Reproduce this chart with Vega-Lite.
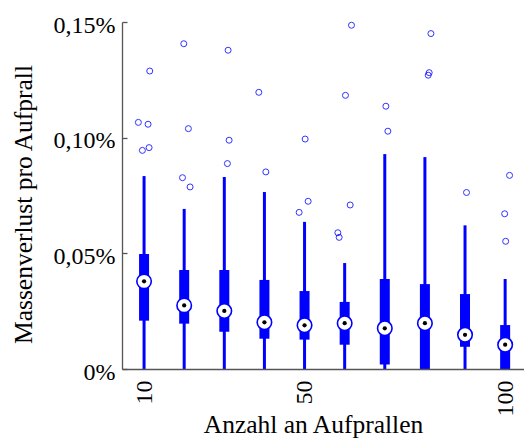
{
  "$schema": "https://vega.github.io/schema/vega-lite/v6.json",
  "autosize": "none",
  "width": 402,
  "height": 347,
  "padding": {"left": 122, "top": 22, "right": 0, "bottom": 69},
  "background": "white",
  "config": {
    "view": {"stroke": null},
    "font": "Liberation Serif",
    "axis": {
      "labelFont": "Liberation Serif",
      "titleFont": "Liberation Serif",
      "labelFontSize": 24,
      "titleFontSize": 25.5,
      "titleFontWeight": "normal",
      "labelColor": "#000000",
      "titleColor": "#000000",
      "domainColor": "#555555",
      "domainWidth": 1.3,
      "tickColor": "#555555",
      "tickWidth": 1.3,
      "grid": false
    }
  },
  "datasets": {
    "boxes": [
      {"n": 10, "lower": 0, "q1": 0.0209, "median": 0.0379, "q3": 0.0497, "upper": 0.0834},
      {"n": 20, "lower": 0, "q1": 0.0196, "median": 0.0275, "q3": 0.0428, "upper": 0.0692},
      {"n": 30, "lower": 0, "q1": 0.0161, "median": 0.0251, "q3": 0.0428, "upper": 0.0830},
      {"n": 40, "lower": 0, "q1": 0.0131, "median": 0.0202, "q3": 0.0385, "upper": 0.0765},
      {"n": 50, "lower": 0, "q1": 0.0127, "median": 0.0189, "q3": 0.0337, "upper": 0.0636},
      {"n": 60, "lower": 0, "q1": 0.0105, "median": 0.0198, "q3": 0.0290, "upper": 0.0458},
      {"n": 70, "lower": 0, "q1": 0.0019, "median": 0.0176, "q3": 0.0389, "upper": 0.0929},
      {"n": 80, "lower": 0, "q1": 0.0, "median": 0.0198, "q3": 0.0367, "upper": 0.0916},
      {"n": 90, "lower": 0, "q1": 0.0096, "median": 0.0148, "q3": 0.0324, "upper": 0.0621},
      {"n": 100, "lower": 0, "q1": 0.0, "median": 0.0105, "q3": 0.0190, "upper": 0.0389}
    ],
    "outliers": [
      {"x": 8.58, "value": 0.1066},
      {"x": 11.0, "value": 0.1058},
      {"x": 9.58, "value": 0.0945},
      {"x": 11.25, "value": 0.0957},
      {"x": 11.42, "value": 0.1288},
      {"x": 19.9, "value": 0.1406},
      {"x": 21.05, "value": 0.1039},
      {"x": 19.58, "value": 0.0827},
      {"x": 21.47, "value": 0.0787},
      {"x": 30.95, "value": 0.1378},
      {"x": 31.2, "value": 0.0989},
      {"x": 30.77, "value": 0.0888},
      {"x": 38.6, "value": 0.1196},
      {"x": 40.35, "value": 0.0852},
      {"x": 50.15, "value": 0.0994},
      {"x": 48.65, "value": 0.0677},
      {"x": 50.9, "value": 0.0725},
      {"x": 61.7, "value": 0.1486},
      {"x": 60.2, "value": 0.1183},
      {"x": 58.3, "value": 0.0589},
      {"x": 58.63, "value": 0.0569},
      {"x": 61.37, "value": 0.0709},
      {"x": 70.27, "value": 0.1136},
      {"x": 70.77, "value": 0.1028},
      {"x": 81.5, "value": 0.1450},
      {"x": 81.07, "value": 0.1281},
      {"x": 80.82, "value": 0.1270},
      {"x": 90.37, "value": 0.0763},
      {"x": 101.1, "value": 0.0837},
      {"x": 99.88, "value": 0.0671},
      {"x": 100.13, "value": 0.0552}
    ]
  },
  "layer": [
    {
      "data": {"name": "boxes"},
      "mark": {"type": "rule", "color": "#0000ff", "strokeWidth": 3, "clip": false},
      "encoding": {
        "x": {
          "field": "n", "type": "quantitative",
          "scale": {"domain": [4.5, 104.7], "nice": false, "zero": false},
          "axis": {
            "title": "Anzahl an Aufprallen",
            "values": [10, 50, 100],
            "labelAngle": 270,
            "ticks": false,
            "labelPadding": 11,
            "titleX": 191,
            "titleY": 63,
            "titleBaseline": "alphabetic",
            "titleAlign": "center",
            "zindex": 1
          }
        },
        "y": {
          "field": "lower", "type": "quantitative",
          "scale": {"domain": [0, 0.15], "nice": false},
          "axis": {
            "title": "Massenverlust pro Aufprall",
            "values": [0, 0.05, 0.1, 0.15],
            "labelExpr": "datum.value == 0 ? '0%' : replace(format(datum.value, '.2f'), '.', ',') + '%'",
            "tickSize": -5,
            "labelPadding": 12,
            "labelOffset": 3,
            "titleX": -99,
            "titleY": 182,
            "titleAngle": 270,
            "titleAlign": "center",
            "titleBaseline": "middle",
            "zindex": 1
          }
        },
        "y2": {"field": "upper"}
      }
    },
    {
      "data": {"name": "boxes"},
      "mark": {"type": "rule", "color": "#0000ff", "strokeWidth": 10, "clip": false},
      "encoding": {
        "x": {"field": "n", "type": "quantitative"},
        "y": {"field": "q1", "type": "quantitative"},
        "y2": {"field": "q3"}
      }
    },
    {
      "data": {"name": "boxes"},
      "mark": {"type": "point", "shape": "circle", "filled": true, "fill": "white", "stroke": "#0000ff", "strokeWidth": 1.6, "size": 210, "opacity": 1, "clip": false},
      "encoding": {
        "x": {"field": "n", "type": "quantitative"},
        "y": {"field": "median", "type": "quantitative"}
      }
    },
    {
      "data": {"name": "boxes"},
      "mark": {"type": "point", "shape": "circle", "filled": true, "color": "#000000", "size": 18, "opacity": 1, "clip": false},
      "encoding": {
        "x": {"field": "n", "type": "quantitative"},
        "y": {"field": "median", "type": "quantitative"}
      }
    },
    {
      "data": {"name": "outliers"},
      "mark": {"type": "point", "shape": "circle", "filled": false, "stroke": "#0000ff", "strokeWidth": 1, "size": 36, "opacity": 0.8, "clip": false},
      "encoding": {
        "x": {"field": "x", "type": "quantitative"},
        "y": {"field": "value", "type": "quantitative"}
      }
    }
  ]
}
